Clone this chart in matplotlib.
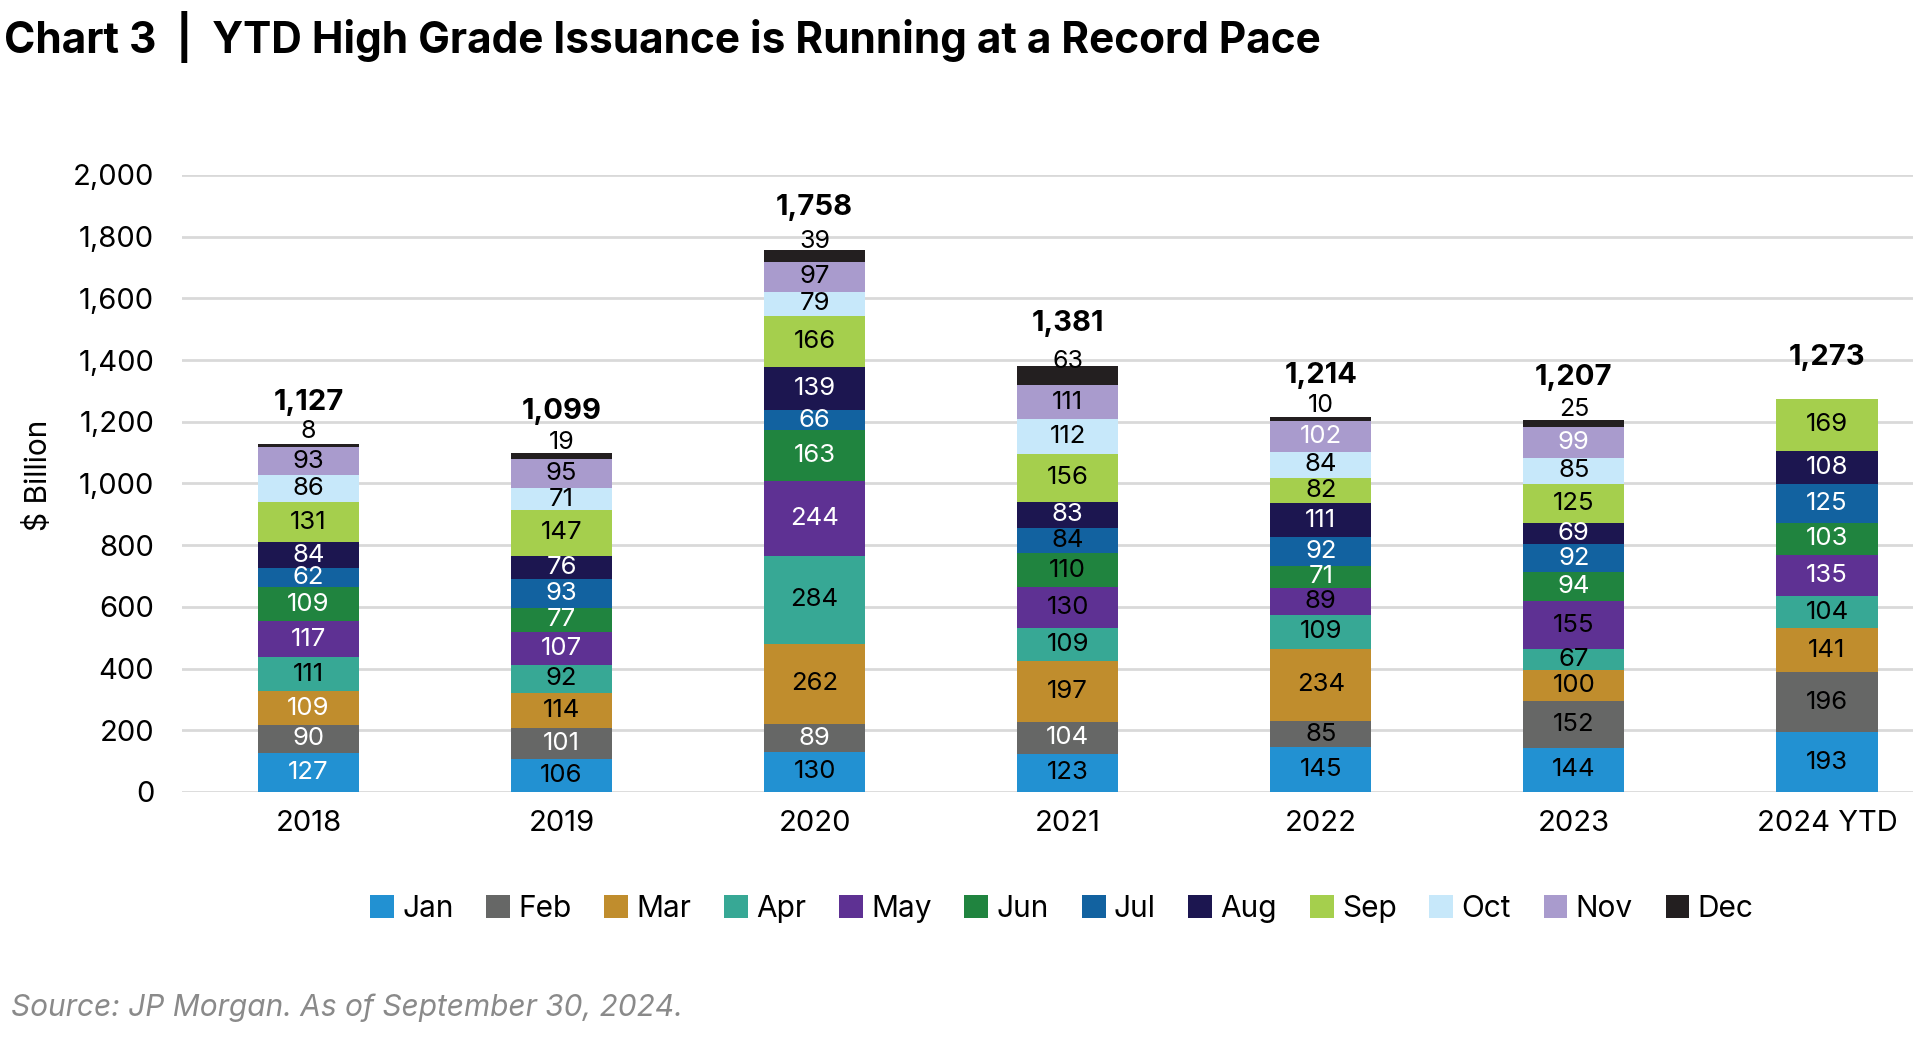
import matplotlib.pyplot as plt
import numpy as np

plt.rcParams['font.family'] = ['Inter', 'DejaVu Sans']

years = ["2018", "2019", "2020", "2021", "2022", "2023", "2024 YTD"]
months = ["Jan", "Feb", "Mar", "Apr", "May", "Jun", "Jul", "Aug", "Sep", "Oct", "Nov", "Dec"]
colors = ["#2291d2", "#666766", "#c08d2d", "#37a895", "#5e3193", "#20843f",
          "#1262a0", "#1c1650", "#a5cf4d", "#c7e8fa", "#a99bcd", "#231f20"]

# issuance per month, $ billion (one list per month, one value per year)
jan = [127, 106, 130, 123, 145, 144, 193]
feb = [90, 101, 89, 104, 85, 152, 196]
mar = [109, 114, 262, 197, 234, 100, 141]
apr = [111, 92, 284, 109, 109, 67, 104]
may = [117, 107, 244, 130, 89, 155, 135]
jun = [109, 77, 163, 110, 71, 94, 103]
jul = [62, 93, 66, 84, 92, 92, 125]
aug = [84, 76, 139, 83, 111, 69, 108]
sep = [131, 147, 166, 156, 82, 125, 169]
octo = [86, 71, 79, 112, 84, 85, 0]
nov = [93, 95, 97, 111, 102, 99, 0]
dec = [8, 19, 39, 63, 10, 25, 0]
totals = [1127, 1099, 1758, 1381, 1214, 1207, 1273]

# label colour per month as in the source (w = white, k = black)
label_colors = {
    "2018":     "wwwkwwwwkkkk",
    "2019":     "kwkkwwwwkkkk",
    "2020":     "kwkkwwwwkkkk",
    "2021":     "kwkkkkkwkkkk",
    "2022":     "kkkkkwwwkkwk",
    "2023":     "kkkkkwwwkkwk",
    "2024 YTD": "kkkkwwwwkkkk",
}

data = np.array([jan, feb, mar, apr, may, jun, jul, aug, sep, octo, nov, dec])

fig = plt.figure(figsize=(19.13, 10.39), dpi=100)
ax = fig.add_axes([0.0951, 0.2378, 0.9049, 0.5938])

x = np.arange(len(years))
bottom = np.zeros(len(years))
for i, m in enumerate(months):
    vals = data[i]
    ax.bar(x, vals, width=0.40, bottom=bottom, color=colors[i], label=m,
           linewidth=0, zorder=3)
    for j in range(len(years)):
        v = vals[j]
        if v == 0:
            continue
        c = "white" if label_colors[years[j]][i] == "w" else "black"
        if m == "Dec":
            # small December slice: value sits just above the bar
            ax.annotate(str(v), (x[j], bottom[j] + v / 2), xytext=(0, 10),
                        textcoords="offset points", ha="center", va="center",
                        fontsize=18, color="black", zorder=4)
        else:
            ax.text(x[j], bottom[j] + v / 2, str(v), ha="center", va="center",
                    fontsize=18.5, color=c, zorder=4)
    bottom += vals

for j in range(len(years)):
    ax.annotate(f"{totals[j]:,}", (x[j], bottom[j]), xytext=(0, 30),
                textcoords="offset points", ha="center", va="center",
                fontsize=21, fontweight="bold", color="black")

ax.set_ylim(0, 2000)
ax.set_xlim(-0.5, 6.34)
ax.set_yticks(np.arange(0, 2001, 200))
ax.set_yticklabels([f"{v:,}" for v in range(0, 2001, 200)])
ax.set_xticks(x)
ax.set_xticklabels(years)
ax.tick_params(axis="y", length=0, labelsize=21, pad=20)
ax.tick_params(axis="x", length=0, labelsize=21, pad=13)
ax.grid(axis="y", color="#d9d9d9", linewidth=2, zorder=0)
for s in ax.spines.values():
    s.set_visible(False)

fig.text(0.020, 0.543, "$ Billion", rotation=90, ha="center", va="center", fontsize=21.5)

fig.text(0.002, 0.964, "Chart 3  |  YTD High Grade Issuance is Running at a Record Pace",
         ha="left", va="center", fontsize=30.5, fontweight="bold")

fig.legend(loc="center", bbox_to_anchor=(0.555, 0.125), ncol=12, frameon=False,
           fontsize=21.5, handlelength=0.8, handleheight=0.8, handletextpad=0.27,
           columnspacing=1.1)

fig.text(0.006, 0.030, "Source: JP Morgan. As of September 30, 2024.",
         ha="left", va="center", fontsize=21.5, style="italic", color="#8a8a8a")

fig.savefig("out.png", dpi=100)
